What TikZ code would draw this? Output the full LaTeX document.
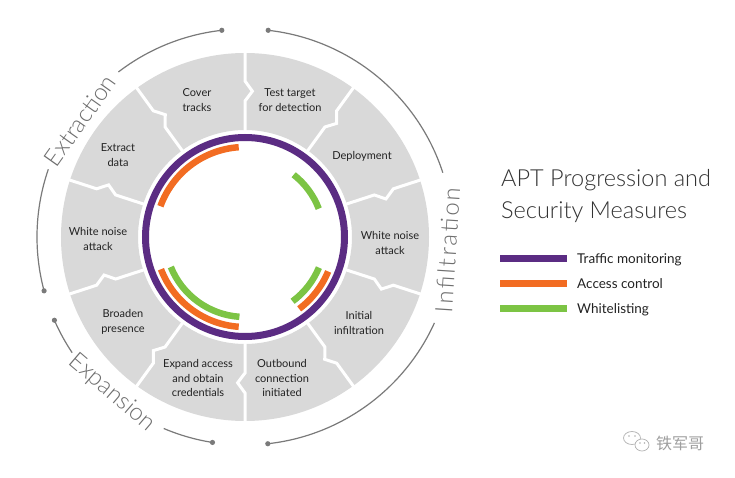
\documentclass[tikz,border=0pt]{standalone}
\usepackage{fontspec}
\setmainfont{Lato}
\IfFontExistsTF{Lato Light}{\newfontfamily\lightfont{Lato Light}}{\newfontfamily\lightfont{Lato}}
\IfFontExistsTF{Lato Light}{\newfontfamily\lightspaced[LetterSpace=9]{Lato Light}}{\newfontfamily\lightspaced[LetterSpace=9]{Lato}}
\newfontfamily\cjkfont{Noto Sans CJK SC}
\definecolor{segGray}{HTML}{D9D9D9}
\definecolor{apurple}{HTML}{5B2C83}
\definecolor{aorange}{HTML}{F26C22}
\definecolor{agreen}{HTML}{7CC444}
\definecolor{arcGray}{HTML}{7A7A7A}
\definecolor{txtc}{HTML}{222222}
\definecolor{titleGray}{HTML}{333333}
\tikzset{
  seglabel/.style={text=txtc, align=center, font=\fontsize{11}{14.5}\selectfont, inner sep=0pt},
  phaselabel/.style={text=arcGray!90!black, font=\lightfont\fontsize{24}{24}\selectfont, inner sep=0pt},
  phasearc/.style={draw=arcGray, line width=1.2pt},
  phasedot/.style={fill=arcGray},
  divider/.style={draw=white, line width=3pt, line join=miter},
  measure/.style={line width=6.5pt, line cap=butt},
  legtext/.style={text=txtc, font=\fontsize{13.5}{16}\selectfont, anchor=base west, inner sep=0pt},
  titletext/.style={text=titleGray, font=\lightfont\fontsize{23.5}{28}\selectfont, anchor=base west, inner sep=0pt}
}
\begin{document}
\begin{tikzpicture}[x=1pt,y=1pt]
\useasboundingbox (-245,-241) rectangle (490,237);
\fill[white] (-245,-241) rectangle (490,237);

% gray ring of stages
\fill[segGray, even odd rule] (0,0) circle (184) (0,0) circle (107);
\foreach \a in {90,54,18,-18,-54,-90,126,162,198,234}{
  \draw[divider] (\a:104) -- (\a:136) -- (\a-2.9:146) -- (\a:156) -- (\a:188);
}

% security measure rings
\draw[apurple, line width=7pt] (0,0) circle (99.5);
\draw[aorange, measure] (94:90) arc[start angle=94, end angle=160, radius=90];
\draw[aorange, measure] (201:90) arc[start angle=201, end angle=266, radius=90];
\draw[agreen, measure] (202:80) arc[start angle=202, end angle=266, radius=80];
\draw[aorange, measure] (-22.5:90) arc[start angle=-22.5, end angle=-53, radius=90];
\draw[agreen, measure] (-22.5:80) arc[start angle=-22.5, end angle=-53.5, radius=80];
\draw[agreen, measure] (21:79) arc[start angle=21, end angle=52, radius=79];

% stage labels
\node[seglabel] (cover) at (-48,137) {Cover\\tracks};
\node[seglabel] (test) at (45,137) {Test target\\for detection};
\node[seglabel] (deploy) at (117,81) {Deployment};
\node[seglabel] (wnr) at (145,-6) {White noise\\attack};
\node[seglabel] (initial) at (114,-86) {Initial\\infiltration};
\node[seglabel] (outbound) at (37,-141) {Outbound\\connection\\initiated};
\node[seglabel] (expand) at (-47,-141) {Expand access\\and obtain\\credentials};
\node[seglabel] (broaden) at (-122,-85) {Broaden\\presence};
\node[seglabel] (wnl) at (-147,-2) {White noise\\attack};
\node[seglabel] (extract) at (-127,82) {Extract\\data};

% phase arcs
\draw[phasearc] (96.4:208) arc[start angle=96.4, end angle=127.5, radius=208];
\draw[phasearc] (161:208) arc[start angle=161, end angle=195, radius=208];
\fill[phasedot] (96.4:208) circle (2.6);
\fill[phasedot] (195:208) circle (2.6);
\node[phaselabel, rotate=54.7] (extraction) at (144.7:202) {Extraction};

\draw[phasearc] (83.6:208) arc[start angle=83.6, end angle=18, radius=208];
\draw[phasearc] (-24.4:208) arc[start angle=-24.4, end angle=-83.7, radius=208];
\fill[phasedot] (83.6:208) circle (2.6);
\fill[phasedot] (-83.7:208) circle (2.6);
\node[phaselabel, font=\lightspaced\fontsize{24}{24}\selectfont, rotate=86.3] (infiltration) at (-3.7:203) {Infiltration};

\draw[phasearc] (203.6:208) arc[start angle=203.6, end angle=213.8, radius=208];
\draw[phasearc] (247:208) arc[start angle=247, end angle=261, radius=208];
\fill[phasedot] (203.6:208) circle (2.6);
\fill[phasedot] (261:208) circle (2.6);
\node[phaselabel, rotate=-40.5] (expansion) at (229.5:205) {Expansion};

% title and legend
\node[titletext] (title1) at (256,50) {APT Progression and};
\node[titletext] (title2) at (256,18) {Security Measures};
\draw[apurple, line width=7pt] (255,-22) -- (322,-22);
\draw[aorange, line width=7pt] (255,-47) -- (322,-47);
\draw[agreen, line width=7pt] (255,-72) -- (322,-72);
\node[legtext] (leg1) at (332,-26.5) {Traffic monitoring};
\node[legtext] (leg2) at (332,-51.5) {Access control};
\node[legtext] (leg3) at (332,-76.5) {Whitelisting};

% watermark
\draw[gray!60, line width=0.7pt, fill=white] (387,-201) ellipse[x radius=8.5, y radius=6.5];
\draw[gray!60, line width=0.7pt, fill=white] (397,-208) ellipse[x radius=7, y radius=6];
\fill[gray!60] (384,-199) circle (0.9) (390,-199) circle (0.9) (395,-206) circle (0.8) (399.5,-206) circle (0.8);
\node[text=gray!75, font=\cjkfont\fontsize{16}{16}\selectfont, anchor=west, inner sep=0pt] (wm) at (411,-206) {铁军哥};
\end{tikzpicture}
\end{document}
